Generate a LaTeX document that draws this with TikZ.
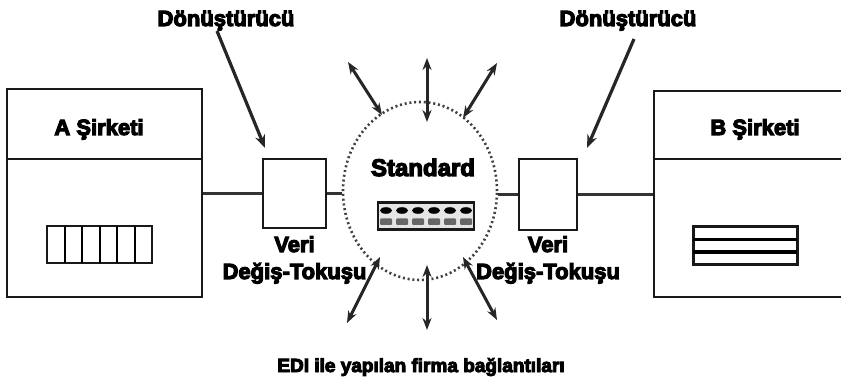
\documentclass[tikz,border=0pt]{standalone}
\usepackage{fontspec}
\newfontfamily\heavy{Liberation Sans Bold}[FakeBold=5]
\usetikzlibrary{arrows.meta,shapes.geometric}

\begin{document}
\begin{tikzpicture}[x=1pt,y=-1pt,
  lbl/.style={inner sep=0pt, font=\fontsize{22}{26}\selectfont\heavy},
  frame/.style={draw=black!90, line width=2.8pt, inner sep=0pt},
  conn/.style={draw=black!80, line width=2.6pt},
  conv/.style={draw=black!85, line width=3.2pt, -{Stealth[length=13pt,width=10pt]}},
  radial/.style={draw=black!85, line width=3pt,
    {Stealth[length=12pt,width=9pt]}-{Stealth[length=12pt,width=9pt]}},
]
\clip (0,0) rectangle (841,390);
\fill[white] (0,0) rectangle (841,390);

% --- company A -------------------------------------------------------
\node[frame, minimum width=195pt, minimum height=208pt] (A) at (104.5,193) {};
\draw[frame] (A.west |- 0,159) -- (A.east |- 0,159);
\node[lbl, anchor=base] (Atitle) at (99,135) {A Şirketi};
\node[frame, line width=2.6pt, minimum width=105pt, minimum height=37pt] (cells) at (99.5,244.5) {};
\foreach \i in {1,...,5}
  \draw[line width=2pt] (47+17.5*\i,226) -- (47+17.5*\i,263);

% --- company B -------------------------------------------------------
\node[frame, minimum width=202pt, minimum height=206pt] (B) at (755,194) {};
\draw[frame] (B.west |- 0,159) -- (B.east |- 0,159);
\node[lbl, anchor=base] (Btitle) at (755,135) {B Şirketi};
\node[frame, line width=3pt, minimum width=104pt, minimum height=38pt] (rows) at (745,246) {};
\foreach \y in {239.7,252.3}
  \draw[line width=3.6pt] (693,\y) -- (797,\y);

% --- data exchange units ----------------------------------------------
\node[frame, minimum width=63pt, minimum height=69pt] (vA) at (294.5,193.5) {};
\node[frame, minimum width=58pt, minimum height=71pt] (vB) at (548,194.5) {};
\node[lbl, anchor=base] (vAa) at (vA.south |- 0,252) {Veri};
\node[lbl, anchor=base] (vAb) at (vA.south |- 0,279) {Değiş-Tokuşu};
\node[lbl, anchor=base] (vBa) at (vB.south |- 0,252) {Veri};
\node[lbl, anchor=base] (vBb) at (vB.south |- 0,279) {Değiş-Tokuşu};

% --- the standard ----------------------------------------------------
\node[ellipse, draw=black!75, line width=2.6pt, dash pattern=on 2pt off 2.8pt,
      minimum width=154pt, minimum height=178pt, inner sep=0pt] (std) at (420,191) {};
\node[lbl, font=\fontsize{24}{28}\selectfont\heavy, anchor=base] (stdt) at (423,176) {Standard};
\node[frame, line width=2.6pt, fill=black!10, minimum width=96pt, minimum height=27pt] (kb) at (426,216) {};
\foreach \k in {386,402,418,434,450,466} {
  \fill (\k,210.5) ellipse [x radius=6pt, y radius=3.3pt];
  \fill[black!60, rounded corners=1pt] (\k-6,218.5) rectangle (\k+6,225);
}

% --- links -----------------------------------------------------------
\draw[conn] (vA.west -| A.east) -- (vA.west);
\draw[conn] (vA.east) -- (vA.east -| std.west);
\draw[conn] (vB.west -| std.east) -- (vB.west);
\draw[conn] (vB.east) -- (vB.east -| B.west);

% --- converters ------------------------------------------------------
\node[lbl, anchor=base] (dA) at (226,26) {Dönüştürücü};
\node[lbl, anchor=base] (dB) at (628,26) {Dönüştürücü};
\coordinate (dAs) at (217,31);
\coordinate (dAe) at (265,148);
\coordinate (dBs) at (634,39);
\coordinate (dBe) at (587,148);
\draw[conv] (dAs) -- (dAe);
\draw[conv] (dBs) -- (dBe);

% --- connections to other firms -------------------------------------
\coordinate (r1a) at (427,58);  \coordinate (r1b) at (427,122);
\coordinate (r2a) at (348,62);  \coordinate (r2b) at (382,115);
\coordinate (r3a) at (497,63);  \coordinate (r3b) at (463,118);
\coordinate (r4a) at (380,257); \coordinate (r4b) at (347,323);
\coordinate (r5a) at (427,265); \coordinate (r5b) at (427,330);
\coordinate (r6a) at (463,257); \coordinate (r6b) at (497,320);
\foreach \r in {1,...,6}
  \draw[radial] (r\r a) -- (r\r b);

% --- caption ---------------------------------------------------------
\node[lbl, font=\fontsize{19}{23}\selectfont\heavy, anchor=base] (cap) at (421,372)
  {EDI ile yapılan firma bağlantıları};
\end{tikzpicture}
\end{document}
